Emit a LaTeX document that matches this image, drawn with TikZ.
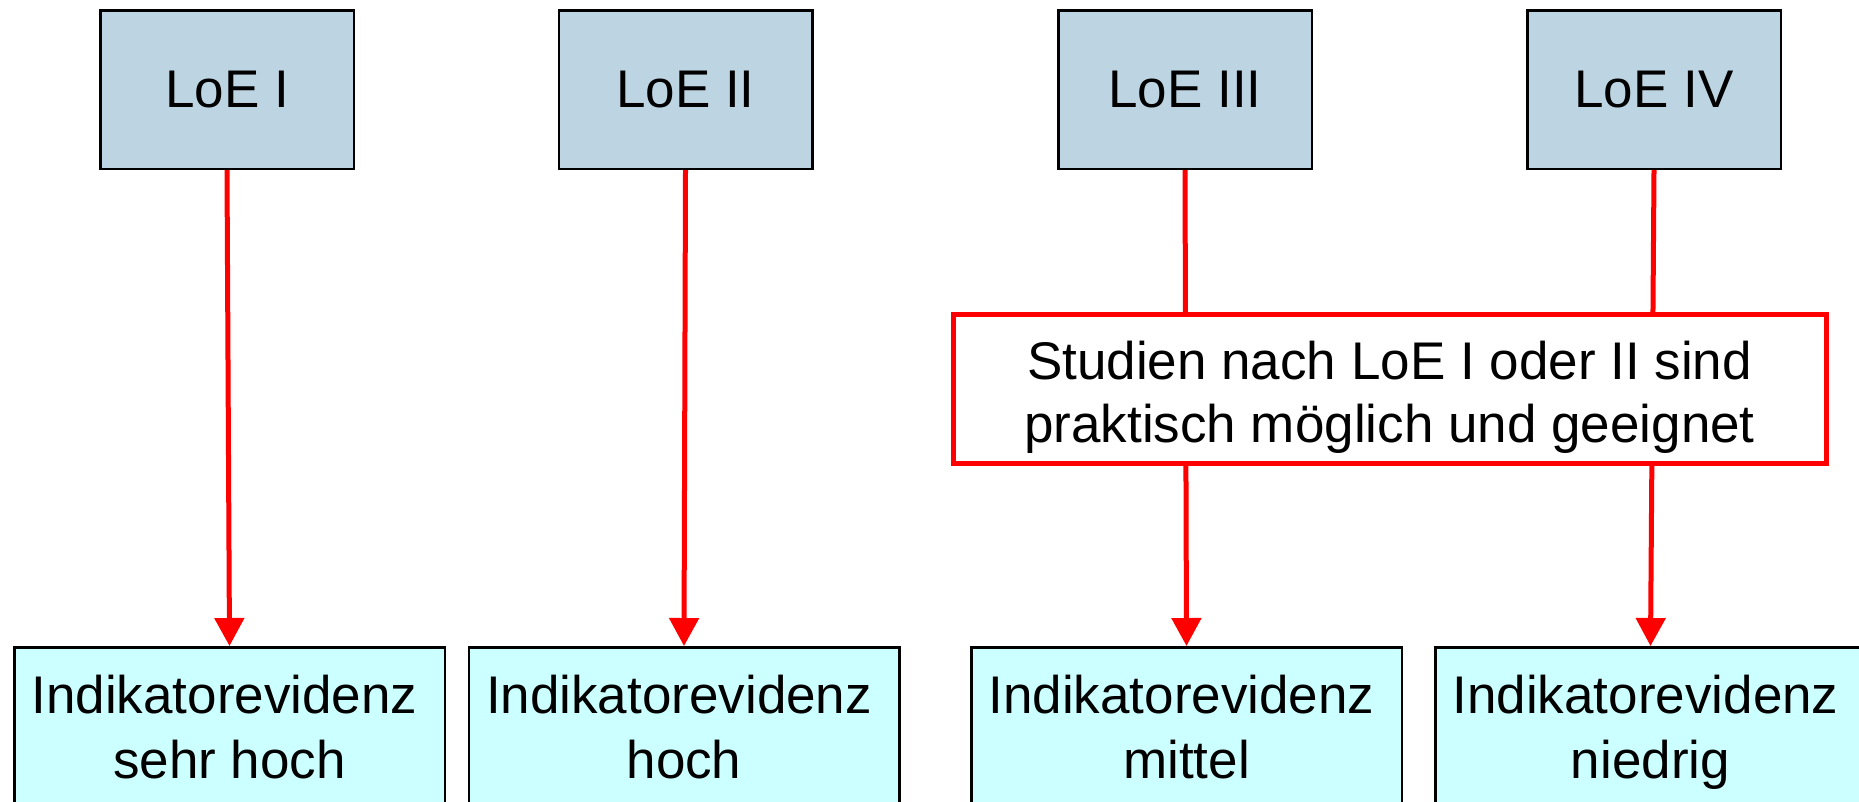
\documentclass[tikz,border=0pt]{standalone}
\usepackage{fontspec}
\setmainfont{Liberation Sans}
\usetikzlibrary{arrows.meta}
\definecolor{topfill}{RGB}{189,213,226}
\definecolor{botfill}{RGB}{204,255,255}
\definecolor{redline}{RGB}{255,0,0}
\begin{document}
\begin{tikzpicture}[x=1pt,y=-1pt,
  every node/.style={font=\fontsize{53}{64}\selectfont},
  topbox/.style={draw=black, line width=2.5pt, fill=topfill, minimum width=253.5pt, minimum height=158.5pt, inner sep=0pt},
  botbox/.style={draw=black, line width=2.5pt, fill=botfill, minimum width=430.5pt, minimum height=260pt, anchor=north, inner sep=0pt},
  txt/.style={anchor=base, inner sep=0pt},
  flowarrow/.style={draw=redline, line width=5pt, -{Triangle[width=29pt,length=28pt]}},
  condbox/.style={draw=redline, line width=5pt, fill=white, minimum width=873pt, minimum height=149pt, inner sep=0pt}]
\useasboundingbox (0,0) rectangle (1859,801);
\clip (0,0) rectangle (1859,801);
\fill[white] (0,0) rectangle (1859,801);
% top boxes
\node[topbox] (t1) at (227,89.5) {LoE I};
\node[topbox] (t2) at (685.5,89.5) {LoE II};
\node[topbox] (t3) at (1185,89.5) {LoE III};
\node[topbox] (t4) at (1654,89.5) {LoE IV};
% bottom boxes
\node[botbox] (b1) at (229.5,646) {};
\node[botbox] (b2) at (684,646) {};
\node[botbox] (b3) at (1186.5,646) {};
\node[botbox] (b4) at (1650.5,646) {};
\node[txt] (b1a) at (224.5,713) {Indikatorevidenz};
\node[txt] (b1b) at (229.5,778) {sehr hoch};
\node[txt] (b2a) at (679,713) {Indikatorevidenz};
\node[txt] (b2b) at (684,778) {hoch};
\node[txt] (b3a) at (1181.5,713) {Indikatorevidenz};
\node[txt] (b3b) at (1186.5,778) {mittel};
\node[txt] (b4a) at (1645.5,713) {Indikatorevidenz};
\node[txt] (b4b) at (1650.5,778) {niedrig};
% arrows
\draw[flowarrow] (t1.south) -- (b1.north);
\draw[flowarrow] (t2.south) -- (b2.north);
\draw[flowarrow] (t3.south) -- (b3.north);
\draw[flowarrow] (t4.south) -- (b4.north);
% condition box
\node[condbox] (c) at (1390,389) {};
\node[txt] (ca) at (1389.5,379) {Studien nach LoE I oder II sind};
\node[txt] (cb) at (1389.5,442) {praktisch möglich und geeignet};
\end{tikzpicture}
\end{document}
